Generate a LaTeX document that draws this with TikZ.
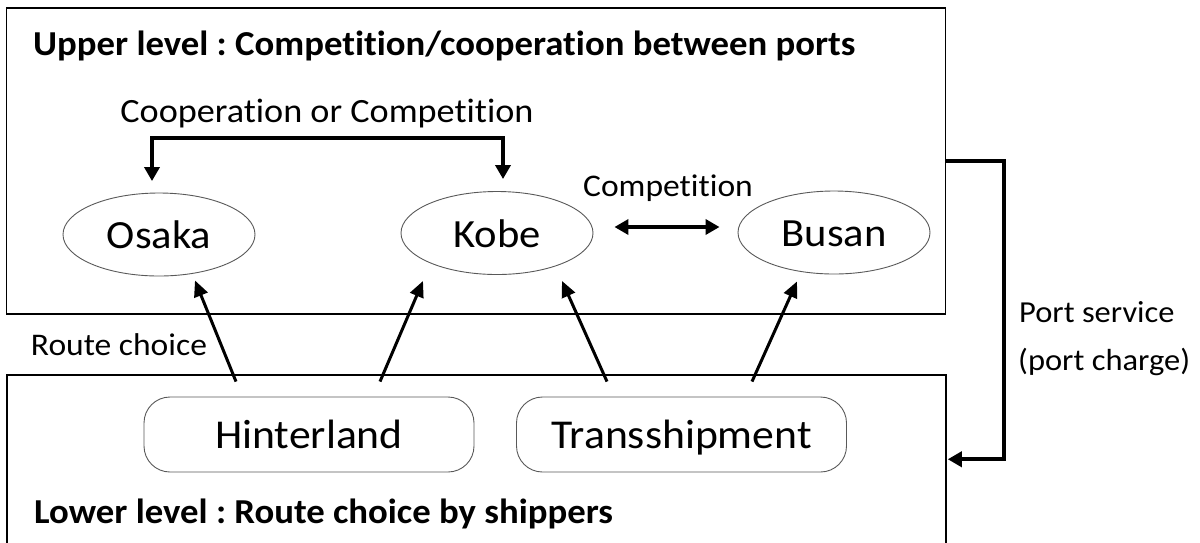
\documentclass[tikz,border=0pt]{standalone}
\usepackage{fontspec}
\setmainfont{Carlito}[Ligatures=NoCommon, FakeStretch=1.065, BoldFeatures={FakeStretch=1.05}]
\usetikzlibrary{arrows.meta, shapes.geometric}
\frenchspacing
\newcommand{\fsz}[1]{\fontsize{#1}{#1}\selectfont}
\tikzset{
  levelbox/.style={draw=black, line width=1.5pt, minimum width=939pt, inner sep=0pt},
  port/.style={ellipse, draw=black!65, line width=0.9pt, minimum width=192pt, minimum height=83pt,
    inner sep=0pt, font=\fsz{40}, text height=28pt, text depth=0pt},
  flow/.style={draw=black!65, line width=0.9pt, rounded corners=26pt, minimum width=330pt,
    minimum height=75pt, inner sep=0pt, font=\fsz{41}, text height=28pt, text depth=0pt},
  bold arrow/.style={line width=4pt, -{Triangle[length=14pt,width=15pt]}},
  bold link/.style={line width=4pt, {Triangle[length=14pt,width=15pt]}-{Triangle[length=14pt,width=15pt]}},
  choice/.style={line width=3pt, -{Triangle[length=16pt,width=14pt]}},
  label/.style={inner sep=0pt},
}
\begin{document}
\begin{tikzpicture}[x=1pt, y=-1pt]
\useasboundingbox (0,0) rectangle (1200,542);

% the two levels
\node[levelbox, minimum height=306pt] (upper) at (476,161) {};
\node[levelbox, minimum height=225pt] (lower) at (476.5,487.5) {};

\node[label, anchor=base west, font=\fsz{35}\bfseries] (uptitle) at (33,55)
  {Upper level : Competition/cooperation between ports};
\node[label, anchor=base west, font=\fsz{35}\bfseries] (lowtitle) at (34,523)
  {Lower level : Route choice by shippers};

% ports
\node[port] (osaka) at (159,234.5) {Osaka};
\node[port] (kobe)  at (497,233) {Kobe};
\node[port] (busan) at (834,232.5) {Busan};

% shippers' routes
\node[flow] (hinter) at (309,434.5) {Hinterland};
\node[flow] (trans)  at (681.5,434.5) {Transshipment};

% relations between ports
\node[label, anchor=base, font=\fsz{34}] (coop) at (327,122) {Cooperation or Competition};
\draw[bold link] ([xshift=-7pt,yshift=11.5pt]osaka.north) -- ++(0,-43) -| ([xshift=6pt,yshift=12pt]kobe.north);

\node[label, anchor=base, font=\fsz{31.5}] (comp) at (668,196) {Competition};
\draw[bold link] ([xshift=21pt,yshift=6pt]kobe.east) -- ([xshift=-18pt,yshift=5.5pt]busan.west);

% route choice arrows
\node[label, anchor=base, font=\fsz{31.5}] (route) at (119,355) {Route choice};
\draw[choice] ([xshift=-73pt,yshift=15pt]hinter.north) -- ([xshift=36pt,yshift=-4pt]osaka.south);
\draw[choice] ([xshift=71pt,yshift=15pt]hinter.north) -- ([xshift=-74pt,yshift=-6pt]kobe.south);
\draw[choice] ([xshift=-74.5pt,yshift=15pt]trans.north) -- ([xshift=65pt,yshift=-6pt]kobe.south);
\draw[choice] ([xshift=70.5pt,yshift=15pt]trans.north) -- ([xshift=-37pt,yshift=-7pt]busan.south);

% port service feedback
\draw[bold arrow] (upper.east) -- ++(58,0) |- ([xshift=1pt,yshift=-85pt]lower.north east);
\node[label, anchor=base west, font=\fsz{30.5}] (svc) at (1019,322) {Port service};
\node[label, anchor=base west, font=\fsz{30.5}] (charge) at (1018,370) {(port charge)};
\end{tikzpicture}
\end{document}
